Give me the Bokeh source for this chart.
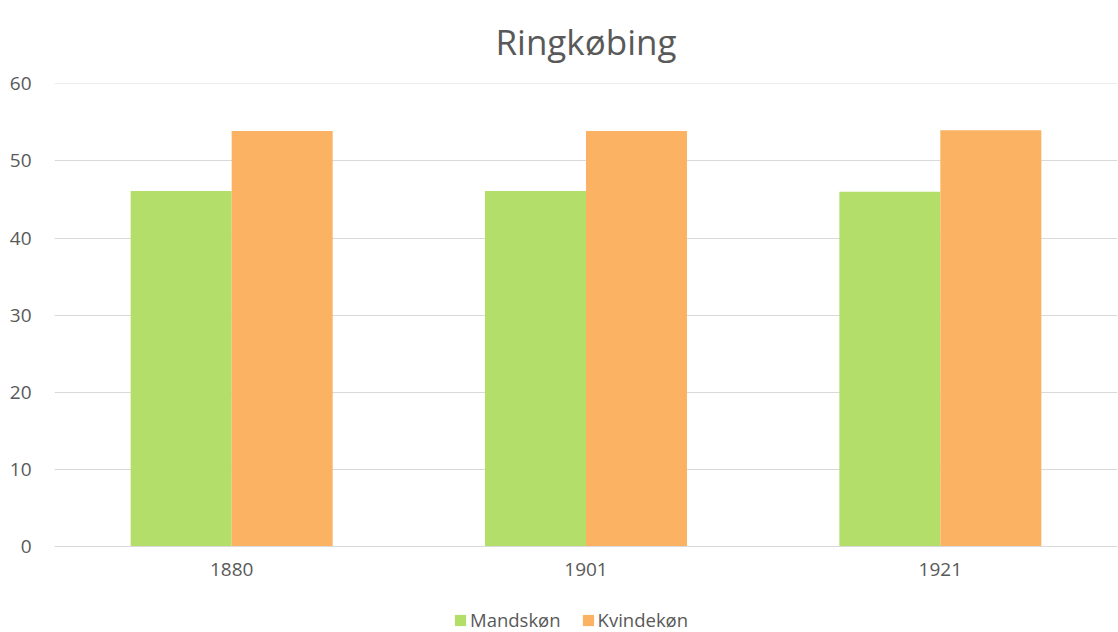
from bokeh.plotting import figure
from bokeh.models import ColumnDataSource, Legend, LegendItem, Title, FactorRange, FixedTicker
from bokeh.transform import dodge
from bokeh.embed import file_html
from bokeh.resources import INLINE

years = ["1880", "1901", "1921"]
mandskon = [46.1, 46.1, 46.0]
kvindekon = [53.9, 53.9, 54.0]
series_names = ["Mandskøn", "Kvindekøn"]
y_ticks = [0, 10, 20, 30, 40, 50, 60]

src = ColumnDataSource(dict(year=years, m=mandskon, k=kvindekon))

FONT = "Open Sans"
GREY = "#595959"

p = figure(x_range=FactorRange(*years, range_padding=0), y_range=(-11.15, 60.05),
           width=1118, height=632,
           output_backend="svg", toolbar_location=None,
           min_border_left=54, min_border_right=1, min_border_top=83, min_border_bottom=0)
p.outline_line_color = None
p.background_fill_color = "white"
p.border_fill_color = "white"

t = Title(text="Ringkøbing", align="center", text_font=FONT, text_font_size="35px",
          text_color=GREY, text_font_style="normal", standoff=33, offset=-14,
          vertical_align="top")
p.add_layout(t, "above")

r1 = p.vbar(x=dodge("year", -0.1425, range=p.x_range), top="m", width=0.285, source=src,
            fill_color="#B3DE69", line_color=None)
r2 = p.vbar(x=dodge("year", 0.1425, range=p.x_range), top="k", width=0.285, source=src,
            fill_color="#FBB262", line_color=None)

p.yaxis.ticker = FixedTicker(ticks=y_ticks)
p.yaxis.axis_line_color = None
p.yaxis.major_tick_line_color = None
p.yaxis.minor_tick_line_color = None
p.yaxis.major_label_text_font = FONT
p.yaxis.major_label_text_font_size = "19px"
p.yaxis.major_label_text_color = GREY
p.yaxis.major_label_standoff = 17

p.xaxis.fixed_location = 0
p.xaxis.axis_line_color = "#D9D9D9"
p.xaxis.major_tick_line_color = None
p.xaxis.minor_tick_line_color = None
p.xaxis.major_label_text_font = FONT
p.xaxis.major_label_text_font_size = "19px"
p.xaxis.major_label_text_color = GREY
p.xaxis.major_label_standoff = 10

p.xgrid.grid_line_color = None
p.ygrid.grid_line_color = "#D9D9D9"
p.ygrid.grid_line_width = 1

legend = Legend(items=[LegendItem(label=series_names[0], renderers=[r1]),
                       LegendItem(label=series_names[1], renderers=[r2])],
                orientation="horizontal", location=(399, 0),
                label_text_font=FONT, label_text_font_size="18.5px", label_text_color=GREY,
                glyph_width=14, glyph_height=14, spacing=20, label_standoff=3,
                border_line_color=None, background_fill_alpha=0, margin=0, padding=0)
p.add_layout(legend, "center")

open("out.html", "w").write(file_html(p, INLINE))
